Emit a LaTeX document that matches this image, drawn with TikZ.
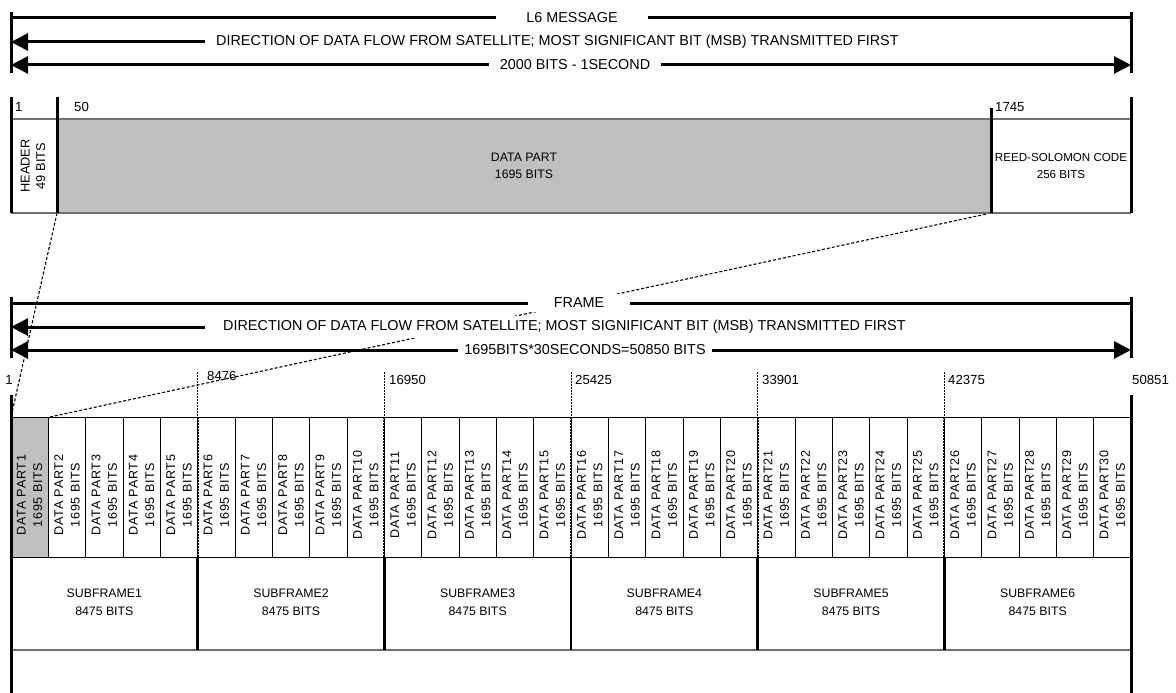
\documentclass[tikz,border=0pt]{standalone}
\usepackage{fontspec}
\setmainfont{Liberation Sans}
\newfontfamily\dpfont[LetterSpace=6]{Liberation Sans}
\usetikzlibrary{arrows.meta}
\definecolor{partgray}{HTML}{C0C0C0}
\definecolor{edgegray}{HTML}{707070}
\begin{document}
\begin{tikzpicture}[x=1pt,y=-1pt,font=\fontsize{14.4}{16}\selectfont,
  thickline/.style={line width=3pt},
  midline/.style={line width=2.4pt},
  thinline/.style={line width=0.9pt},
  grayline/.style={line width=1.5pt,draw=edgegray},
  lbl/.style={fill=white,inner xsep=11pt,inner ysep=1pt},
  tipL/.style={-{Triangle[length=17pt,width=17pt]}},
  conn/.style={line width=1.1pt,dash pattern=on 3pt off 2pt},
  tick/.style={line width=0.9pt,dash pattern=on 2pt off 1pt},
  sfdiv/.style={line width=2pt,dash pattern=on 2pt off 1pt},
  numlbl/.style={font=\fontsize{13.2}{15}\selectfont,inner sep=1pt},
  dptext/.style={rotate=90,align=center,font=\dpfont\fontsize{12.6}{16.5}\selectfont,inner sep=0pt},
  boxtext/.style={align=center,font=\fontsize{12.3}{17}\selectfont}]
\useasboundingbox (0,0) rectangle (1176,693);

% ---------------- expansion connectors (drawn underneath the labels) ----------------
\coordinate (dB) at (57,213);
\coordinate (rB) at (991,213);
\coordinate (xA) at (11,417);
\coordinate (xB) at (50,417);
\draw[conn] (dB) -- (xA);
\draw[conn] (rB) -- (xB);

% ---------------- L6 message header lines ----------------
\coordinate (mTL) at (11,12);   \coordinate (mBL) at (11,73);
\coordinate (mTR) at (1131,12); \coordinate (mBR) at (1131,73);
\draw[thickline] (mTL) -- (mBL);
\draw[thickline] (mTR) -- (mBR);
\coordinate (m1L) at (11,18); \coordinate (m1R) at (1131,18);
\coordinate (m2L) at (11,42);
\coordinate (m3L) at (11,65); \coordinate (m3R) at (1131,65);
\node[lbl,inner xsep=30pt] (l6) at (572,18) {L6 MESSAGE};
\node[lbl,anchor=west] (dir1) at (205,42) {DIRECTION OF DATA FLOW FROM SATELLITE; MOST SIGNIFICANT BIT (MSB) TRANSMITTED FIRST};
\node[lbl,inner xsep=11pt] (bits1) at (575,65) {2000 BITS - 1SECOND};
\draw[thickline] (m1L) -- (l6.west);
\draw[thickline] (l6.east) -- (m1R);
\draw[thickline,tipL] (dir1.west) -- (m2L);
\draw[thickline,tipL] (bits1.west) -- (m3L);
\draw[thickline,tipL] (bits1.east) -- (m3R);

% ---------------- L6 message structure ----------------
\fill[partgray] (57,119) rectangle (991,213);
\draw[grayline] (11,119) -- (1131,119);
\draw[grayline] (11,213) -- (1131,213);
\coordinate (hA) at (11,97);   \coordinate (hB) at (11,213);
\coordinate (dA) at (57,97);
\coordinate (rA) at (991,108);
\coordinate (eA) at (1131,97); \coordinate (eB) at (1131,213);
\draw[thickline] (hA) -- (hB);
\draw[thickline] (dA) -- (dB);
\draw[thickline] (rA) -- (rB);
\draw[thickline] (eA) -- (eB);
\node[numlbl,anchor=west] (n1) at (14,107) {1};
\node[numlbl,anchor=west] (n50) at (73,107) {50};
\node[numlbl,anchor=west] (n1745) at (994,107) {1745};
\node[boxtext,rotate=90,font=\fontsize{12.8}{15.5}\selectfont] (hdr) at (33,166) {HEADER\\49 BITS};
\node[boxtext] (data) at (524,166) {DATA PART\\1695 BITS};
\node[boxtext,font=\fontsize{11.6}{17}\selectfont] (rs) at (1061,166) {REED-SOLOMON CODE\\256 BITS};

% ---------------- Frame header lines ----------------
\coordinate (fTL) at (11,297);   \coordinate (fBL) at (11,358);
\coordinate (fTR) at (1131,297); \coordinate (fBR) at (1131,358);
\draw[thickline] (fTL) -- (fBL);
\draw[thickline] (fTR) -- (fBR);
\coordinate (f1L) at (11,303); \coordinate (f1R) at (1131,303);
\coordinate (f2L) at (11,327);
\coordinate (f3L) at (11,350); \coordinate (f3R) at (1131,350);
\node[lbl,inner xsep=26pt,inner ysep=4pt] (frame) at (579,303) {FRAME};
\node[lbl,anchor=west,inner xsep=18pt,inner ysep=4.5pt] (dir2) at (205,327) {DIRECTION OF DATA FLOW FROM SATELLITE; MOST SIGNIFICANT BIT (MSB) TRANSMITTED FIRST};
\node[lbl,inner xsep=6pt] (bits2) at (585,350) {1695BITS*30SECONDS=50850 BITS};
\draw[thickline] (f1L) -- (frame.west);
\draw[thickline] (frame.east) -- (f1R);
\draw[thickline,tipL] (dir2.west) -- (f2L);
\draw[thickline,tipL] (bits2.west) -- (f3L);
\draw[thickline,tipL] (bits2.east) -- (f3R);

% ---------------- Frame structure ----------------
\fill[partgray] (11,417) rectangle (48.3333,557);
\foreach \i in {1,...,29} {
  \draw[thinline] ({11+\i*37.33333},417) -- ({11+\i*37.33333},557);
}
\draw[thinline] (11,417) -- (1131,417);
\draw[thinline] (11,557) -- (1131,557);
\draw[grayline] (11,650) -- (1131,650);
\foreach \i in {1,...,30} {
  \node[dptext] (dp\i) at ({11+(\i-0.5)*37.33333},495) {DATA PART\i\\1695 BITS};
}
\foreach \j in {1,...,5} {
  \coordinate (tk\j) at ({11+\j*186.66667},372);
  \coordinate (tm\j) at ({11+\j*186.66667},417);
  \coordinate (tb\j) at ({11+\j*186.66667},557);
  \coordinate (te\j) at ({11+\j*186.66667},650);
  \draw[tick] (tk\j) -- (tm\j);
  \draw[sfdiv] (tm\j) -- (tb\j);
  \draw[midline] (tb\j) -- (te\j);
}
\foreach \j in {1,...,6} {
  \node[boxtext,font=\fontsize{12.3}{18}\selectfont] (sf\j) at ({11+(\j-0.5)*186.66667},602) {SUBFRAME\j\\8475 BITS};
}
\coordinate (bLt) at (11,395);   \coordinate (bLb) at (11,693);
\coordinate (bRt) at (1131,395); \coordinate (bRb) at (1131,693);
\draw[thickline] (bLt) -- (bLb);
\draw[thickline] (bRt) -- (bRb);
\node[numlbl] (f1) at (9,380) {1};
\node[numlbl,anchor=west] (f8476) at (206,376) {8476};
\node[numlbl,anchor=west] (f16950) at (388,380) {16950};
\node[numlbl,anchor=west] (f25425) at (574,380) {25425};
\node[numlbl,anchor=west] (f33901) at (761,380) {33901};
\node[numlbl,anchor=west] (f42375) at (947,380) {42375};
\node[numlbl,anchor=west] (f50851) at (1131,380) {50851};
\end{tikzpicture}
\end{document}
